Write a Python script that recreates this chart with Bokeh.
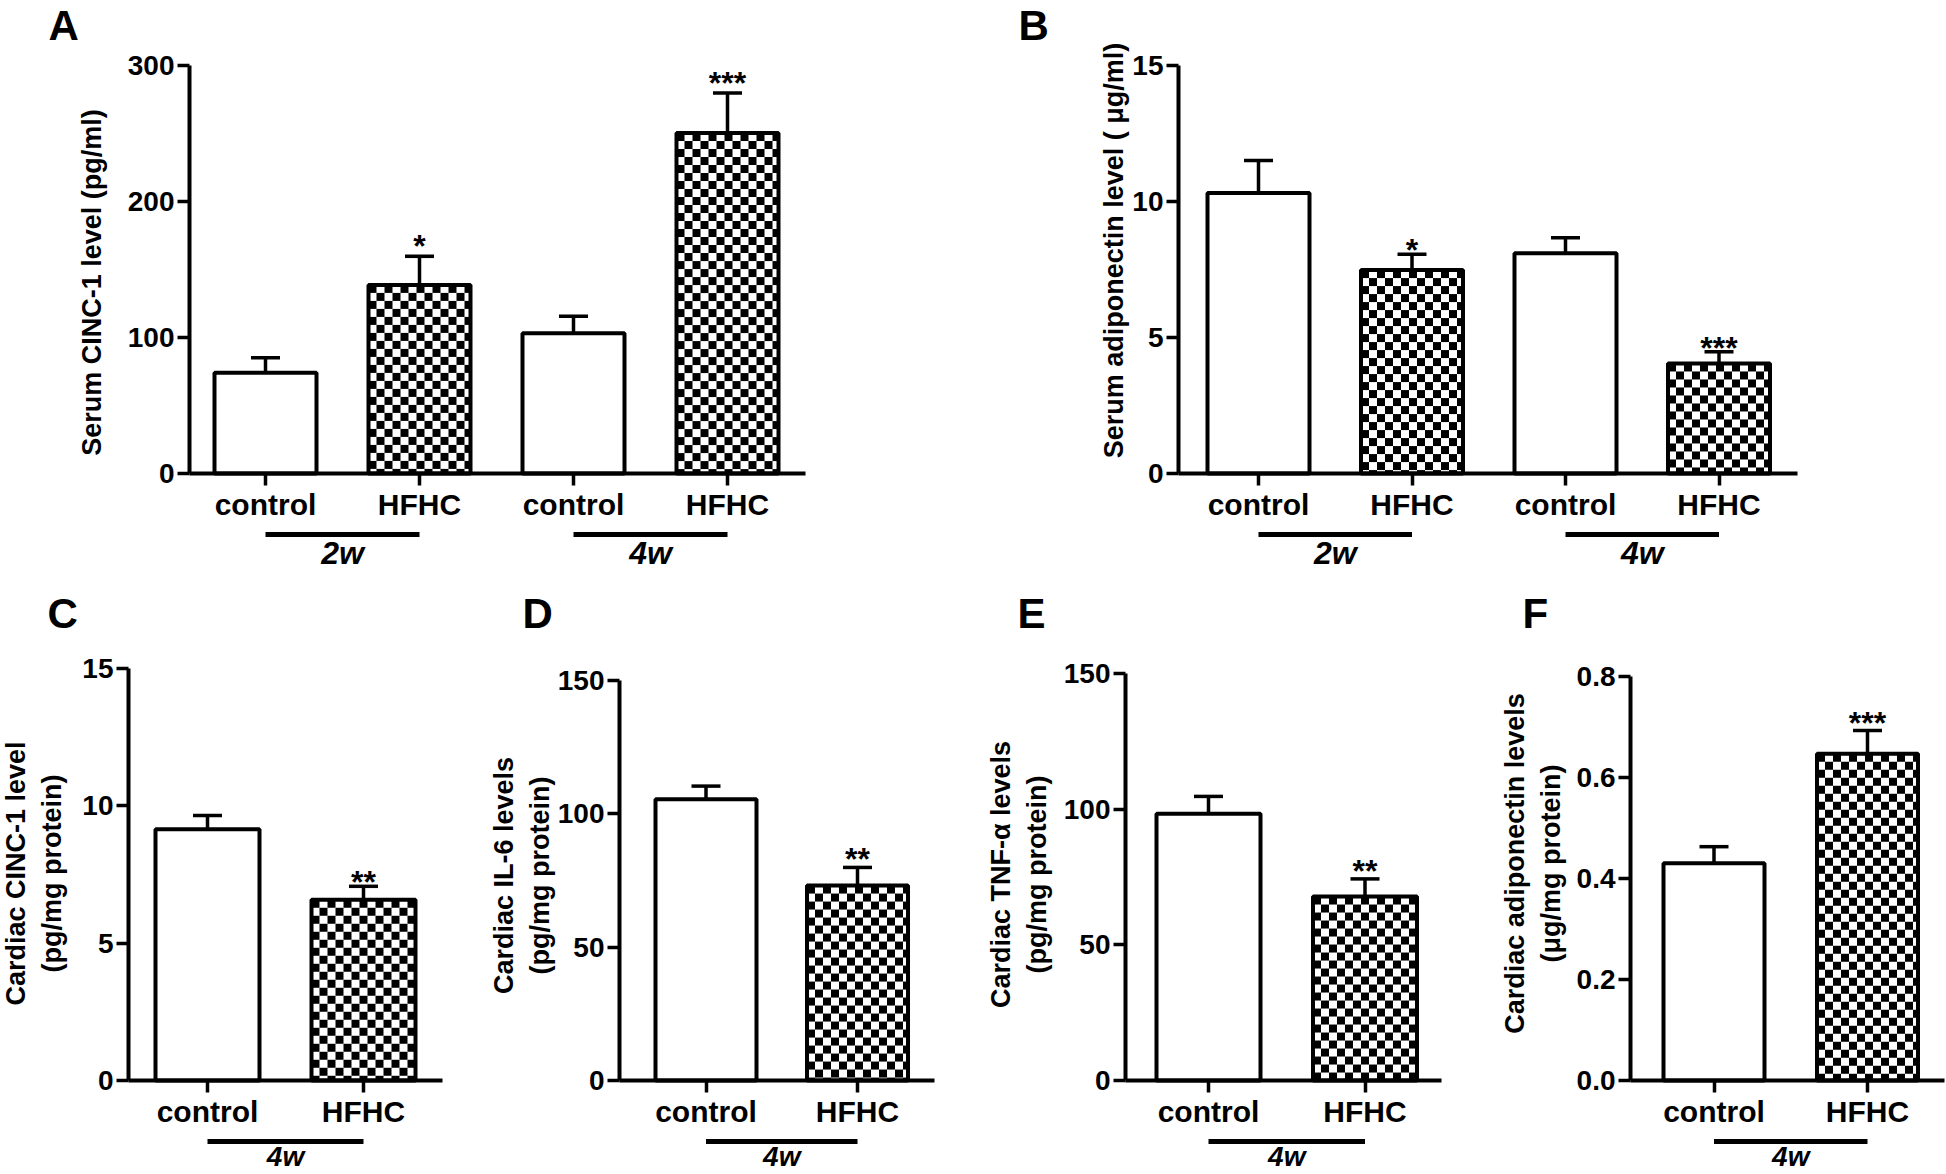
import math
import numpy as np
from bokeh.plotting import figure
from bokeh.layouts import column, row
from bokeh.models import FixedTicker, Whisker, TeeHead, ColumnDataSource, Range1d
from bokeh.core.properties import value
from bokeh.embed import file_html
from bokeh.resources import INLINE

# ---------------- data ----------------
cats_4 = ["control", "HFHC", "control", "HFHC"]
cats_2 = ["control", "HFHC"]
weeks_4 = ["2w", "4w"]
weeks_2 = ["4w"]

a_mean = [74.0, 138.5, 103.0, 250.0]
a_sem = [11.0, 21.0, 12.5, 29.5]
a_stars = ["", "*", "", "***"]
a_ticks = [0, 100, 200, 300]
a_tick_labels = ["0", "100", "200", "300"]

b_mean = [10.3, 7.47, 8.09, 4.04]
b_sem = [1.19, 0.58, 0.57, 0.43]
b_stars = ["", "*", "", "***"]
b_ticks = [0, 5, 10, 15]
b_tick_labels = ["0", "5", "10", "15"]

c_mean = [9.15, 6.58]
c_sem = [0.50, 0.49]
c_stars = ["", "**"]
c_ticks = [0, 5, 10, 15]
c_tick_labels = ["0", "5", "10", "15"]

d_mean = [105.5, 73.1]
d_sem = [4.9, 6.8]
d_stars = ["", "**"]
d_ticks = [0, 50, 100, 150]
d_tick_labels = ["0", "50", "100", "150"]

e_mean = [98.3, 67.8]
e_sem = [6.4, 6.5]
e_stars = ["", "**"]
e_ticks = [0, 50, 100, 150]
e_tick_labels = ["0", "50", "100", "150"]

f_mean = [0.430, 0.647]
f_sem = [0.033, 0.046]
f_stars = ["", "***"]
f_ticks = [0, 0.2, 0.4, 0.6, 0.8]
f_tick_labels = ["0.0", "0.2", "0.4", "0.6", "0.8"]

FONT = "Liberation Sans"
CELL = 8  # checker cell size in px


def make_panel(letter, cats, means, sems, stars, ticks, tick_labels, ylabel,
               weeks, lay):
    fx0, fy0, fx1, fy1 = lay["fig"]
    fl, fr = lay["axis_x"]
    y0px, ytop_px = lay["y0px"], lay["ytop_px"]
    c0, d, bw = lay["c0"], lay["d"], lay["bw"]
    ytop = ticks[-1]
    upp = ytop / (y0px - ytop_px)  # data units per pixel

    def X(px):
        return (px - c0) / d

    def Y(py):
        return (y0px - py) * upp

    p = figure(width=fx1 - fx0, height=fy1 - fy0, output_backend="svg",
               toolbar_location=None, tools="", title=None,
               x_range=Range1d(X(fx0), X(fx1)), y_range=Range1d(Y(fy1), Y(fy0)))
    p.min_border_left = 0
    p.min_border_right = 0
    p.min_border_top = 0
    p.min_border_bottom = 0
    p.outline_line_color = None
    p.grid.visible = False
    p.background_fill_color = "white"
    p.border_fill_color = "white"

    n = len(cats)
    xs = list(range(n))
    top_err = [m + s for m, s in zip(means, sems)]
    wdat = bw / d

    # checker pattern inside HFHC bars
    ql, qr, qt, qb = [], [], [], []
    for i in xs:
        if cats[i] != "HFHC":
            continue
        xl = c0 + i * d - bw / 2
        xr = xl + bw
        yt = y0px - means[i] / upp
        ncol = int(math.ceil(bw / CELL))
        nrow = int(math.ceil((y0px - yt) / CELL))
        rr, cc = np.meshgrid(np.arange(nrow), np.arange(ncol), indexing="ij")
        mask = (rr + cc) % 2 == 0
        sx0 = xl + cc[mask] * CELL
        sx1 = np.minimum(sx0 + CELL, xr)
        sy0 = yt + rr[mask] * CELL
        sy1 = np.minimum(sy0 + CELL, y0px)
        ql += [X(v) for v in sx0]
        qr += [X(v) for v in sx1]
        qt += [Y(v) for v in sy0]
        qb += [Y(v) for v in sy1]
    p.quad(left=ql, right=qr, top=qt, bottom=qb, fill_color="black", line_color=None)

    # bars (outline)
    src = ColumnDataSource(dict(x=xs, top=means,
                                fill=["white" if c == "control" else None for c in cats]))
    p.vbar(x="x", top="top", bottom=0, width=wdat, source=src,
           fill_color="fill", line_color="black", line_width=4)

    # error bars (upper only)
    src_e = ColumnDataSource(dict(x=xs, lo=means, hi=top_err))
    w = Whisker(base="x", lower="lo", upper="hi", source=src_e, line_width=3.5,
                line_color="black", lower_head=None,
                upper_head=TeeHead(size=29, line_width=3.5, line_color="black"))
    p.add_layout(w)

    # significance stars
    p.text(x=xs, y=[t + lay["star_up"] * upp for t in top_err], text=stars,
           text_align="center", text_baseline="middle",
           text_font=value(FONT), text_font_size="32px", text_font_style="bold",
           text_color="black")

    # week group lines and labels
    gl_y = Y(lay["gline"])
    gt_y = Y(lay["gtext"])
    gx0 = [2 * k for k in range(len(weeks))]
    gx1 = [2 * k + 1 for k in range(len(weeks))]
    p.segment(x0=gx0, x1=gx1, y0=[gl_y] * len(weeks), y1=[gl_y] * len(weeks),
              line_width=5, line_color="black")
    p.text(x=[(a + b) / 2 for a, b in zip(gx0, gx1)], y=[gt_y] * len(weeks), text=weeks,
           text_align="center", text_baseline="top", text_font=value(FONT),
           text_font_size=lay["gfont"], text_font_style="bold italic", text_color="black")

    # y-axis title
    cx, cy = lay["ylab"]
    p.text(x=[X(cx)], y=[Y(cy)], text=[ylabel], angle=math.pi / 2,
           text_align="center", text_baseline="middle", text_font=value(FONT),
           text_font_size="27px", text_font_style="bold", text_color="black")

    # panel letter
    lx, ly = lay["letter"]
    p.text(x=[X(lx)], y=[Y(ly)], text=[letter], text_align="left", text_baseline="middle",
           text_font=value(FONT), text_font_size="42px", text_font_style="bold",
           text_color="black")

    # axes
    xa = p.xaxis[0]
    xa.fixed_location = 0
    xa.bounds = (X(fl), X(fr))
    xa.ticker = FixedTicker(ticks=xs)
    xa.major_label_overrides = {i: c for i, c in enumerate(cats)}
    xa.axis_line_width = 4
    xa.major_tick_line_width = 3.5
    xa.major_tick_out = 12
    xa.major_tick_in = 0
    xa.minor_tick_line_color = None
    xa.major_label_standoff = 2
    xa.major_label_text_font = FONT
    xa.major_label_text_font_size = "30px"
    xa.major_label_text_font_style = "bold"
    xa.major_label_text_color = "black"

    ya = p.yaxis[0]
    ya.fixed_location = X(fl)
    ya.bounds = (0, ytop)
    ya.ticker = FixedTicker(ticks=ticks)
    ya.major_label_overrides = {t: l for t, l in zip(ticks, tick_labels)}
    ya.axis_line_width = 4
    ya.major_tick_line_width = 3.5
    ya.major_tick_out = 12
    ya.major_tick_in = 0
    ya.minor_tick_line_color = None
    ya.major_label_standoff = 3
    ya.major_label_text_font = FONT
    ya.major_label_text_font_size = "28px"
    ya.major_label_text_font_style = "bold"
    ya.major_label_text_color = "black"
    return p


SH = 6  # bottom row lifted slightly so the week labels fit the window

lay_a = dict(fig=(0, 0, 960, 575), axis_x=(189, 805), y0px=473, ytop_px=64.5,
             c0=265, d=154, bw=102, gline=534, gtext=534, gfont="32px", ylab=(91, 282),
             letter=(48, 25), star_up=10)
lay_b = dict(fig=(960, 0, 1946, 575), axis_x=(1178, 1797), y0px=473, ytop_px=64.5,
             c0=1258, d=153.5, bw=102, gline=534, gtext=534, gfont="32px", ylab=(1113, 250),
             letter=(1018, 25), star_up=4)
lay_c = dict(fig=(0, 575, 470, 1172), axis_x=(128, 442), y0px=1086 - SH, ytop_px=674 - SH,
             c0=207, d=156, bw=104, gline=1147 - SH, gtext=1146 - SH, gfont="28px",
             ylab=(33, 879 - SH), letter=(47, 619 - SH), star_up=4)
lay_d = dict(fig=(470, 575, 965, 1172), axis_x=(619, 934), y0px=1086 - SH, ytop_px=686 - SH,
             c0=705.5, d=151.5, bw=101, gline=1147 - SH, gtext=1146 - SH, gfont="28px",
             ylab=(521, 881 - SH), letter=(522, 619 - SH), star_up=8)
lay_e = dict(fig=(965, 575, 1470, 1172), axis_x=(1125, 1441), y0px=1086 - SH, ytop_px=679 - SH,
             c0=1208, d=156.5, bw=104, gline=1147 - SH, gtext=1146 - SH, gfont="28px",
             ylab=(1018, 880 - SH), letter=(1017, 619 - SH), star_up=8)
lay_f = dict(fig=(1470, 575, 1946, 1172), axis_x=(1630, 1944), y0px=1086 - SH, ytop_px=682 - SH,
             c0=1713.5, d=153.5, bw=101, gline=1147 - SH, gtext=1146 - SH, gfont="28px",
             ylab=(1532, 869 - SH), letter=(1522, 619 - SH), star_up=8)

pa = make_panel("A", cats_4, a_mean, a_sem, a_stars, a_ticks, a_tick_labels,
                "Serum CINC-1 level (pg/ml)", weeks_4, lay_a)
pb = make_panel("B", cats_4, b_mean, b_sem, b_stars, b_ticks, b_tick_labels,
                "Serum adiponectin level ( μg/ml)", weeks_4, lay_b)
pc = make_panel("C", cats_2, c_mean, c_sem, c_stars, c_ticks, c_tick_labels,
                "Cardiac CINC-1 level\n(pg/mg protein)", weeks_2, lay_c)
pd_ = make_panel("D", cats_2, d_mean, d_sem, d_stars, d_ticks, d_tick_labels,
                 "Cardiac IL-6 levels\n(pg/mg protein)", weeks_2, lay_d)
pe = make_panel("E", cats_2, e_mean, e_sem, e_stars, e_ticks, e_tick_labels,
                "Cardiac TNF-α levels\n(pg/mg protein)", weeks_2, lay_e)
pf = make_panel("F", cats_2, f_mean, f_sem, f_stars, f_ticks, f_tick_labels,
                "Cardiac adiponectin levels\n(μg/mg protein)", weeks_2, lay_f)

layout = column(row(pa, pb, spacing=0), row(pc, pd_, pe, pf, spacing=0), spacing=0)

open("out.html", "w").write(file_html(layout, INLINE))
